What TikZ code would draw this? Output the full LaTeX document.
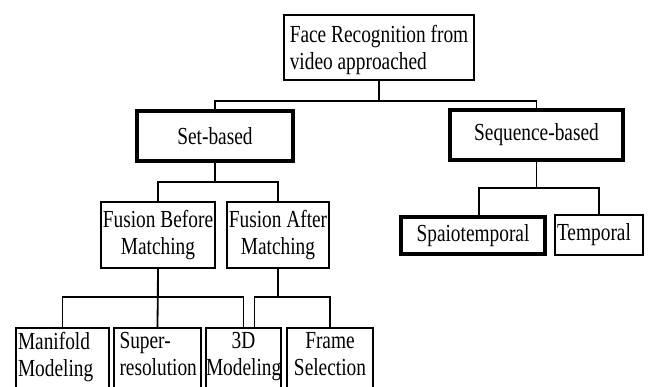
\documentclass[tikz,border=0pt]{standalone}
\usepackage{fontspec}
\setmainfont[FakeStretch=0.79]{Liberation Serif}
\tikzset{
  box/.style={
    rectangle,
    draw=black,
    line width=2.4pt,
    inner sep=0pt,
    font=\fontsize{24.5}{27}\selectfont,
  },
  boldbox/.style={
    box,
    line width=4.5pt,
  },
  leafbox/.style={
    box,
    anchor=north,
    inner ysep=4.5pt,
    text depth=40pt,
  },
  link/.style={
    line width=1.8pt,
  },
}
\begin{document}
\begin{tikzpicture}[x=1pt,y=-1pt]

  \clip (0,0) rectangle (648,387);

  % root
  \node[box, minimum width=190pt, minimum height=65pt, align=left]
    (root) at (379,47.5) {\rule{0pt}{22pt}Face Recognition from\\video approached};

  % first level
  \node[boldbox, minimum width=156pt, minimum height=50pt] (setb) at (215,136) {Set-based};
  \node[boldbox, minimum width=173pt, minimum height=50pt] (seqb) at (536.5,135) {Sequence-based};

  % sequence-based children
  \node[boldbox, minimum width=144pt, minimum height=37pt] (spaio) at (473,235.5) {Spaiotemporal};
  \node[box, minimum width=88pt, minimum height=40pt, text width=84pt, align=left] (temp) at (599,235) {Temporal};

  % set-based children
  \node[box, minimum width=114pt, minimum height=66pt, align=center]
    (fbm) at (158,235) {Fusion Before\\Matching};
  \node[box, minimum width=102pt, minimum height=66pt, align=center]
    (fam) at (278,235) {Fusion After\\Matching};

  % leaves
  \node[leafbox, minimum width=93pt, text width=89pt, align=left] (mani) at (62.5,327) {Manifold\\Modeling};
  \node[leafbox, minimum width=87pt, text width=76pt, align=left] (super) at (157.5,327) {Super-\\resolution};
  \node[leafbox, minimum width=75pt, text width=75pt, align=center] (mod3d) at (243.5,327) {3D\\Modeling};
  \node[leafbox, minimum width=86pt, text width=80pt, align=center] (frame) at (330,327) {Frame\\Selection};

  % connectors
  \draw[link] (root.south) -- ++(0,20) -| (setb.north);
  \draw[link] (root.south) -- ++(0,20) -| (seqb.north);

  \draw[link] (seqb.south) -- ++(0,26) -| ([xshift=6pt]spaio.north);
  \draw[link] (seqb.south) -- ++(0,26) -| (temp.north);

  \draw[link] (setb.south) -- ++(0,19) -| (fbm.north);
  \draw[link] (setb.south) -- ++(0,19) -| (fam.north);

  \draw[link] (fbm.south) -- ++(0,28) -| (mani.north);
  \draw[link] (fbm.south) -- (super.north);
  \draw[link] (fbm.south) -- ++(0,28) -| (mod3d.north);

  \draw[link] (fam.south) -- ++(0,28) -| ([xshift=11pt]mod3d.north);
  \draw[link] (fam.south) -- ++(0,28) -| (frame.north);

\end{tikzpicture}
\end{document}
